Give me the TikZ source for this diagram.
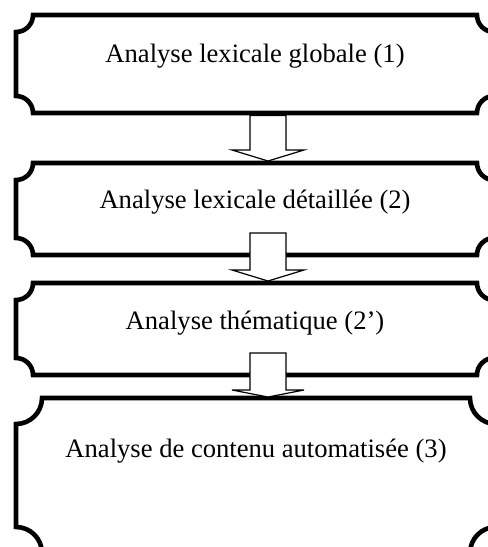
\documentclass[tikz,border=0pt]{standalone}
\usepackage{fontspec}
\setmainfont{Liberation Serif}
\tikzset{
  boxline/.style={draw=black, line width=4.6pt, line join=miter, fill=white},
  arrowshape/.style={draw=black, line width=1.2pt, fill=white, line join=miter},
  lbl/.style={font=\fontsize{26.6}{30}\selectfont, inner sep=0pt, anchor=base}
}
% plaque-shaped frame: x0, y0, x1, y1, corner radius (y measured downwards)
\newcommand\plaqueframe[5]{%
  \draw[boxline] (#1+#5,-#2) -- (#3-#5,-#2)
    arc[start angle=180, end angle=270, radius=#5pt] -- (#3,-#4+#5)
    arc[start angle=90, end angle=180, radius=#5pt] -- (#1+#5,-#4)
    arc[start angle=0, end angle=90, radius=#5pt] -- (#1,-#2-#5)
    arc[start angle=270, end angle=360, radius=#5pt] -- cycle;}
% block arrow pointing down: shaft top, head base, tip
\newcommand\downblock[3]{%
  \draw[arrowshape] (250,-#1) -- (286,-#1) -- (286,-#2) -- (304,-#2)
    -- (268,-#3) -- (232,-#2) -- (250,-#2) -- cycle;}
\begin{document}
\begin{tikzpicture}[x=1pt,y=1pt]
  \useasboundingbox (0,0) rectangle (488,-547);
  \clip (0,0) rectangle (488,-547);
  % frames
  \plaqueframe{16}{15}{494}{113}{17}
  \plaqueframe{16}{163}{494}{255}{17}
  \plaqueframe{16}{283}{494}{375}{17}
  \plaqueframe{16}{398}{496}{553}{26}
  % block arrows between the stages
  \downblock{115.5}{150}{161}
  \downblock{233}{270}{281}
  \downblock{353}{390}{397}
  % stage labels
  \node[lbl] (s1) at (255,-62) {Analyse lexicale globale (1)};
  \node[lbl] (s2) at (255,-208) {Analyse lexicale détaillée (2)};
  \node[lbl] (s3) at (255,-329) {Analyse thématique (2’)};
  \node[lbl] (s4) at (256,-457) {Analyse de contenu automatisée (3)};
\end{tikzpicture}
\end{document}
